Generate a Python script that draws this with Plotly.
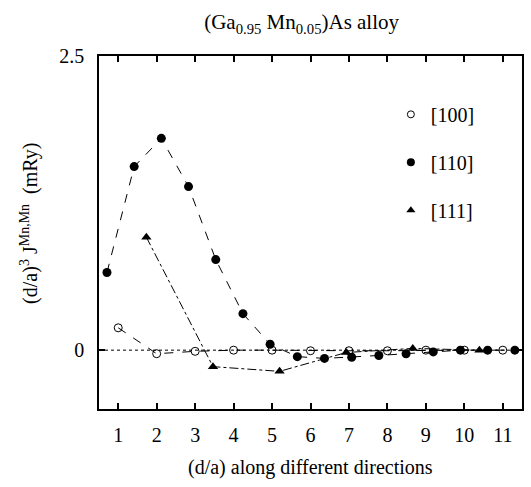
import plotly.graph_objects as go

# [100] direction
x100 = [1, 2, 3, 4, 5, 6, 7, 8, 9, 10, 11]
y100 = [0.19, -0.03, -0.01, 0.0, 0.0, -0.005, -0.005, -0.005, 0.0, 0.0, 0.0]

# [110] direction
x110 = [0.707, 1.414, 2.121, 2.828, 3.536, 4.243, 4.950, 5.657, 6.364, 7.071, 7.778, 8.485, 9.192, 9.899, 10.607, 11.314]
y110 = [0.66, 1.56, 1.80, 1.39, 0.77, 0.31, 0.05, -0.055, -0.07, -0.06, -0.045, -0.03, -0.015, 0.0, 0.0, 0.0]

# [111] direction
x111 = [1.732, 3.464, 5.196, 6.928, 8.660, 10.392]
y111 = [0.96, -0.14, -0.18, -0.02, 0.015, 0.0]

xticks = [1, 2, 3, 4, 5, 6, 7, 8, 9, 10, 11]
yticks = [0, 2.5]
ytick_labels = ["0", "2.5"]

FONT = "Liberation Serif"
FS = 20

fig = go.Figure()

fig.add_trace(go.Scatter(x=x100, y=y100, mode="lines+markers", showlegend=False,
                         line=dict(color="black", width=1, dash="dash"),
                         marker=dict(symbol="circle-open", size=8, color="black", line=dict(width=1))))
fig.add_trace(go.Scatter(x=x110, y=y110, mode="lines+markers", showlegend=False,
                         line=dict(color="black", width=1, dash="dash"),
                         marker=dict(symbol="circle", size=9, color="black")))
fig.add_trace(go.Scatter(x=x111, y=y111, mode="lines+markers", showlegend=False,
                         line=dict(color="black", width=1, dash="dashdot"),
                         marker=dict(symbol="triangle-up", size=9, color="black")))

# legend entries (markers only)
fig.add_trace(go.Scatter(x=[None], y=[None], mode="markers", name="[100]", legendgroup="a",
                         marker=dict(symbol="circle-open", size=7, color="black", line=dict(width=1))))
fig.add_trace(go.Scatter(x=[None], y=[None], mode="markers", name="[110]", legendgroup="b",
                         marker=dict(symbol="circle", size=8, color="black")))
fig.add_trace(go.Scatter(x=[None], y=[None], mode="markers", name="[111]", legendgroup="c",
                         marker=dict(symbol="triangle-up", size=8, color="black")))

fig.add_shape(type="line", xref="paper", yref="y", x0=0, x1=1, y0=0, y1=0,
              line=dict(color="black", width=1, dash="dot"), layer="below")

axis_common = dict(showline=True, linecolor="black", linewidth=1.5, mirror="ticks",
                   ticks="inside", ticklen=6, tickwidth=1.5, tickcolor="black",
                   showgrid=False, zeroline=False,
                   tickfont=dict(family=FONT, size=FS, color="black"))

fig.update_layout(
    width=531, height=487,
    margin=dict(l=99, r=7, t=56, b=78),
    paper_bgcolor="white", plot_bgcolor="white",
    font=dict(family=FONT, color="black"),
    title=dict(text="(Ga<sub>0.95</sub> Mn<sub>0.05</sub>)As alloy", x=0.568, xanchor="center",
               y=0.955, yanchor="middle", font=dict(family=FONT, size=21, color="black")),
    xaxis=dict(range=[0.5, 11.5], tickvals=xticks, ticklabelstandoff=7, **axis_common),
    yaxis=dict(range=[-0.5, 2.5], tickvals=yticks, ticktext=ytick_labels,
               ticklabelstandoff=9, **axis_common),
    legend=dict(x=0.69, y=0.89, xanchor="left", yanchor="top", bgcolor="rgba(0,0,0,0)",
                font=dict(family=FONT, size=FS, color="black"), tracegroupgap=19,
                itemwidth=30),
    showlegend=True,
    annotations=[
        dict(text="(d/a) along different directions", xref="paper", yref="paper",
             x=0.5, y=-0.166, xanchor="center", yanchor="middle", showarrow=False,
             font=dict(family=FONT, size=FS, color="black")),
        dict(text="(d/a)<sup>3</sup> J<sup>Mn,Mn</sup>  (mRy)", xref="paper", yref="paper",
             x=-0.165, y=0.525, xanchor="center", yanchor="middle", textangle=-90,
             showarrow=False, font=dict(family=FONT, size=FS, color="black")),
    ],
)

fig.write_html("out.html")
